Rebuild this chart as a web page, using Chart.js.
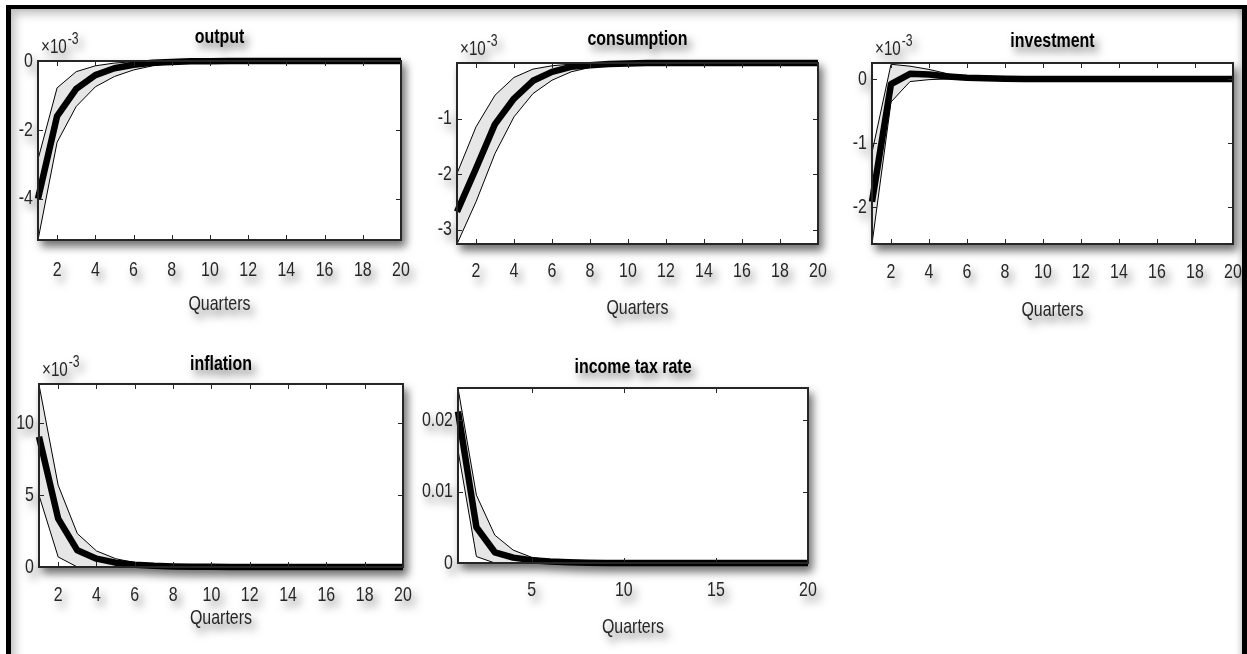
<!DOCTYPE html>
<html>
<head>
<meta charset="utf-8">
<script src="https://cdn.jsdelivr.net/npm/chart.js@4.4.1/dist/chart.umd.min.js"></script>
<style>
html, body { margin:0; padding:0; background:#fff; overflow:hidden; width:1247px; height:654px; }
#frame { position:absolute; left:6px; top:5px; width:1241px; height:700px; box-sizing:border-box;
  border:5px solid #000; border-top-width:4px; background:#fff;
  box-shadow: inset 7px 8px 10px -3px rgba(0,0,0,0.25), inset -4px 0 5px -2px rgba(0,0,0,0.2); }
canvas { position:absolute; filter: drop-shadow(4px 6px 4px rgba(0,0,0,0.55)); }
</style>
</head>
<body>
<div id="frame"></div>
<script>
// impulse responses, quarters 1..20 (first four panels in units of 1e-3)
var quarters = [1, 2, 3, 4, 5, 6, 7, 8, 9, 10, 11, 12, 13, 14, 15, 16, 17, 18, 19, 20];

var outputMean = [-4.00, -1.60, -0.81, -0.41, -0.21, -0.11, -0.05, -0.03, -0.01, -0.01, 0, 0, 0, 0, 0, 0, 0, 0, 0, 0];
var outputLow  = [-5.20, -2.36, -1.32, -0.75, -0.45, -0.26, -0.14, -0.07, -0.04, -0.02, -0.01, -0.01, 0, 0, 0, 0, 0, 0, 0, 0];
var outputHigh = [-2.86, -0.78, -0.31, -0.14, -0.06, -0.02, -0.01, 0, 0, 0, 0, 0, 0, 0, 0, 0, 0, 0, 0, 0];

var consMean = [-2.68, -1.90, -1.10, -0.64, -0.32, -0.16, -0.07, -0.04, -0.02, -0.01, 0, 0, 0, 0, 0, 0, 0, 0, 0, 0];
var consLow  = [-3.26, -2.50, -1.63, -0.97, -0.55, -0.31, -0.16, -0.08, -0.04, -0.02, -0.01, 0, 0, 0, 0, 0, 0, 0, 0, 0];
var consHigh = [-1.99, -1.15, -0.58, -0.26, -0.11, -0.05, -0.02, -0.01, 0, 0, 0, 0, 0, 0, 0, 0, 0, 0, 0, 0];

var invMean = [-1.92, -0.08, 0.08, 0.07, 0.04, 0.02, 0.01, 0.005, 0, 0, 0, 0, 0, 0, 0, 0, 0, 0, 0, 0];
var invLow  = [-2.58, -0.36, -0.04, -0.01, 0, 0, 0, 0, 0, 0, 0, 0, 0, 0, 0, 0, 0, 0, 0, 0];
var invHigh = [-1.15, 0.23, 0.20, 0.15, 0.08, 0.04, 0.02, 0.01, 0, 0, 0, 0, 0, 0, 0, 0, 0, 0, 0, 0];

var inflMean = [9.07, 3.37, 1.16, 0.58, 0.30, 0.15, 0.08, 0.04, 0.02, 0.01, 0, 0, 0, 0, 0, 0, 0, 0, 0, 0];
var inflLow  = [5.00, 0.70, 0, 0, 0, 0, 0, 0, 0, 0, 0, 0, 0, 0, 0, 0, 0, 0, 0, 0];
var inflHigh = [12.70, 5.70, 2.33, 1.12, 0.58, 0.30, 0.15, 0.07, 0.03, 0.01, 0, 0, 0, 0, 0, 0, 0, 0, 0, 0];

var taxMean = [0.0212, 0.0050, 0.0015, 0.00075, 0.0004, 0.0002, 0.0001, 0.00005, 0, 0, 0, 0, 0, 0, 0, 0, 0, 0, 0, 0];
var taxLow  = [0.0158, 0.0009, 0, 0, 0, 0, 0, 0, 0, 0, 0, 0, 0, 0, 0, 0, 0, 0, 0, 0];
var taxHigh = [0.0245, 0.0095, 0.0039, 0.0018, 0.0008, 0.0004, 0.0002, 0.0001, 0, 0, 0, 0, 0, 0, 0, 0, 0, 0, 0, 0];

var xTicksEven = [2, 4, 6, 8, 10, 12, 14, 16, 18, 20];
var xTicksFive = [5, 10, 15, 20];
var outputTicks = [-4, -2, 0];
var consTicks = [-3, -2, -1];
var invTicks = [-2, -1, 0];
var inflTicks = [0, 5, 10];
var taxTicks = [0, 0.01, 0.02];

var FONT = '"Liberation Sans Narrow", "Arial Narrow", "Liberation Sans", Arial, sans-serif';
var NARROW = 0.76;   // horizontal squeeze applied to all text
var INK = '#262626';
var Y_W = 44, PAD_R = 40, X_H = 80, TITLE_PT = 6;
var TITLE_SIZE = 21, TITLE_LH = 1.2;

// box: left, top, right, bottom of the plot area in the page
var panels = [
  {title: 'output', mean: outputMean, low: outputLow, high: outputHigh, yMin: -5.2, yMax: 0,
   yTicks: outputTicks, xTicks: xTicksEven, expo: true, box: [38, 61, 401, 240], titleMid: 38, tickGap: 30, labelGap: 64},
  {title: 'consumption', mean: consMean, low: consLow, high: consHigh, yMin: -3.26, yMax: 0,
   yTicks: consTicks, xTicks: xTicksEven, expo: true, box: [457, 63, 818, 244], titleMid: 40, tickGap: 27, labelGap: 64},
  {title: 'investment', mean: invMean, low: invLow, high: invHigh, yMin: -2.58, yMax: 0.25,
   yTicks: invTicks, xTicks: xTicksEven, expo: true, box: [872, 63, 1233, 244], titleMid: 42, tickGap: 28, labelGap: 66},
  {title: 'inflation', mean: inflMean, low: inflLow, high: inflHigh, yMin: 0, yMax: 12.75,
   yTicks: inflTicks, xTicks: xTicksEven, expo: true, box: [39, 384, 403, 567], titleMid: 365, tickGap: 28, labelGap: 51},
  {title: 'income tax rate', mean: taxMean, low: taxLow, high: taxHigh, yMin: 0, yMax: 0.0245,
   yTicks: taxTicks, xTicks: xTicksFive, expo: false, box: [458, 388, 808, 563], titleMid: 368, tickGap: 27, labelGap: 64}
];

function points(values){
  return quarters.map(function(q, i){ return {x: q, y: values[i]}; });
}

var boxPlugin = {
  id: 'matlabBox',
  beforeInit: function(chart){
    // squeeze text horizontally around its anchor, like a narrow face
    var ctx = chart.ctx;
    var fill = ctx.fillText;
    ctx.fillText = function(text, x, y){
      this.save();
      this.translate(x, y);
      this.scale(NARROW, 1);
      fill.call(this, text, 0, 0);
      this.restore();
    };
  },
  beforeDraw: function(chart){
    var a = chart.chartArea, ctx = chart.ctx;
    ctx.save();
    ctx.fillStyle = '#fff';
    ctx.fillRect(a.left, a.top, a.right - a.left, a.bottom - a.top);
    ctx.restore();
  },
  afterDraw: function(chart, args, opts){
    var a = chart.chartArea, ctx = chart.ctx;
    var xs = chart.scales.x, ys = chart.scales.y;
    ctx.save();
    ctx.strokeStyle = INK;
    ctx.lineWidth = 1;
    ctx.beginPath();
    xs.ticks.forEach(function(t){
      var px = Math.round(xs.getPixelForValue(t.value)) + 0.5;
      ctx.moveTo(px, a.bottom); ctx.lineTo(px, a.bottom - 5);
      ctx.moveTo(px, a.top); ctx.lineTo(px, a.top + 5);
    });
    ys.ticks.forEach(function(t){
      var py = Math.round(ys.getPixelForValue(t.value)) + 0.5;
      ctx.moveTo(a.left, py); ctx.lineTo(a.left + 5, py);
      ctx.moveTo(a.right, py); ctx.lineTo(a.right - 5, py);
    });
    ctx.stroke();
    ctx.lineWidth = 2;
    ctx.strokeRect(a.left, a.top, a.right - a.left, a.bottom - a.top);

    if(opts.expo){
      ctx.fillStyle = INK;
      ctx.textAlign = 'left';
      ctx.textBaseline = 'alphabetic';
      ctx.font = '20px ' + FONT;
      var x0 = a.left + 3, y0 = a.top - 8;
      ctx.fillText('\u00d710', x0, y0);
      var w = ctx.measureText('\u00d710').width * NARROW;
      ctx.font = '16px ' + FONT;
      ctx.fillText('-3', x0 + w + 1, y0 - 9);
    }
    ctx.restore();
  }
};

function drawPanel(p){
  var b = p.box;
  var half = TITLE_SIZE * TITLE_LH / 2;
  var cy = Math.round(p.titleMid - half - TITLE_PT);
  var cx = b[0] - Y_W;
  var canvas = document.createElement('canvas');
  canvas.width = b[2] - b[0] + Y_W + PAD_R;
  canvas.height = b[3] - cy + X_H;
  canvas.style.left = cx + 'px';
  canvas.style.top = cy + 'px';
  document.body.appendChild(canvas);

  new Chart(canvas, {
    type: 'line',
    data: {
      datasets: [
        {data: points(p.mean), borderColor: '#000', borderWidth: 6.5, pointRadius: 0, fill: false, borderJoinStyle: 'round', clip: 6},
        {data: points(p.high), borderColor: '#000', borderWidth: 1, pointRadius: 0, fill: '+1', backgroundColor: '#e6e6e6', clip: 2},
        {data: points(p.low), borderColor: '#000', borderWidth: 1, pointRadius: 0, fill: false, clip: 2}
      ]
    },
    options: {
      responsive: false,
      animation: false,
      devicePixelRatio: 1,
      layout: {padding: {left: 0, right: PAD_R, top: 0, bottom: 0}},
      elements: {line: {tension: 0}},
      plugins: {
        legend: {display: false},
        tooltip: {enabled: false},
        filler: {drawTime: 'beforeDatasetsDraw'},
        title: {
          display: true, text: p.title, fullSize: false, color: '#000',
          font: {family: FONT, size: TITLE_SIZE, weight: 'bold', lineHeight: TITLE_LH},
          padding: {top: TITLE_PT, bottom: b[1] - cy - 2 * half - TITLE_PT}
        },
        matlabBox: {expo: p.expo}
      },
      scales: {
        x: {
          type: 'linear', min: 1, max: 20,
          grid: {display: false, drawTicks: false},
          border: {display: false},
          afterBuildTicks: function(s){ s.ticks = p.xTicks.map(function(v){ return {value: v}; }); },
          afterFit: function(s){ s.height = X_H; },
          ticks: {autoSkip: false, maxRotation: 0, color: INK, padding: p.tickGap - 12.6, font: {family: FONT, size: 21}},
          title: {display: true, text: 'Quarters', color: INK, font: {family: FONT, size: 21},
                  padding: {top: 0, bottom: X_H - 12.6 - p.labelGap}}
        },
        y: {
          type: 'linear', min: p.yMin, max: p.yMax,
          grid: {display: false, drawTicks: false},
          border: {display: false},
          afterBuildTicks: function(s){ s.ticks = p.yTicks.map(function(v){ return {value: v}; }); },
          afterFit: function(s){ s.width = Y_W; },
          ticks: {autoSkip: false, color: INK, padding: 5, font: {family: FONT, size: 21}}
        }
      }
    },
    plugins: [boxPlugin]
  });
}

panels.forEach(drawPanel);
</script>
</body>
</html>
